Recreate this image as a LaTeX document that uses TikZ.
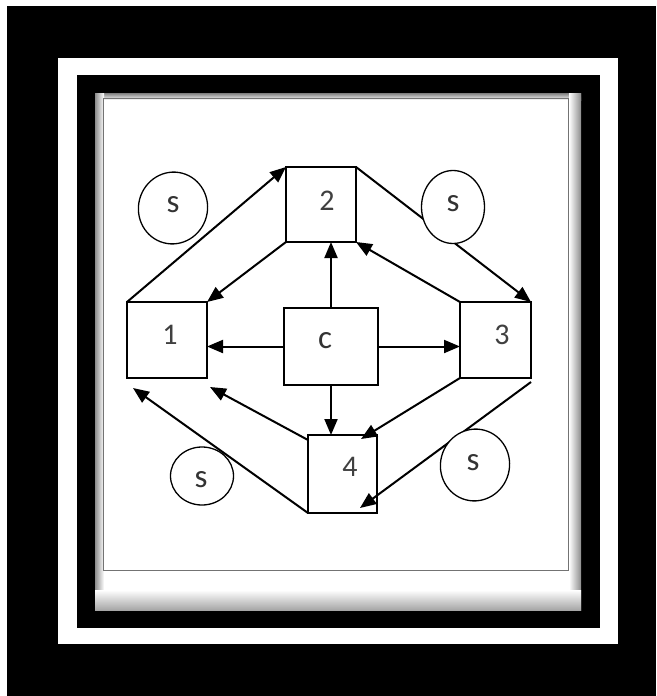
\documentclass[tikz,border=0pt]{standalone}
\usepackage{fontspec}
\setmainfont{Carlito}
\usetikzlibrary{arrows.meta,shapes.geometric,calc}
\begin{document}
\begin{tikzpicture}[x=1pt,y=1pt,
  box/.style={draw,line width=1.9pt,minimum width=#1,outer sep=0pt,inner sep=0pt},
  lbl/.style={text=black!75,font=\fontsize{30}{30}\selectfont},
  slbl/.style={text=black!80,font=\fontsize{33}{33}\selectfont},
  sell/.style={draw,ellipse,fill=white,line width=1.3pt,inner sep=0pt,outer sep=0pt},
  conn/.style={line width=2pt,-{Triangle[length=16pt,width=13pt]}}
]
\useasboundingbox (0,0) rectangle (656,-696);
\fill[white] (0,0) rectangle (656,-696);
\fill[black] (7,-6) rectangle (656,-696);
\fill[white] (58,-58) rectangle (618,-644);
\fill[black] (77,-75) rectangle (600,-628);
% panel with soft inner shadow
\fill[white] (95,-93) rectangle (581,-610);
\shade[top color=black!50,bottom color=white] (95,-93) rectangle (581,-100);
\shade[left color=black!45,right color=white] (95,-93) rectangle (104,-610);
\shade[left color=white,right color=black!45] (569,-93) rectangle (581,-610);
\shade[top color=white,bottom color=black!35] (95,-590) rectangle (581,-610);
\draw[black!55,line width=1pt] (103,-98) rectangle (568,-570);

% boxes
\node[box=80pt,minimum height=76pt] (b1) at (167,-340) {};
\node[box=70pt,minimum height=75pt] (b2) at (321,-204.5) {};
\node[box=94pt,minimum height=77pt] (bc) at (331,-346.5) {};
\node[box=71pt,minimum height=76pt] (b3) at (495.5,-340) {};
\node[box=69pt,minimum height=78pt] (b4) at (342.5,-474) {};
\node[lbl] (t1) at (170,-335) {1};
\node[lbl] (t2) at (327,-201) {2};
\node[slbl] (tc) at (325,-341) {c};
\node[lbl] (t3) at (502,-335) {3};
\node[lbl] (t4) at (350,-467) {4};

% connectors
\draw[conn] (b1.north west) -- (b2.north west);
\draw[conn] (b2.south west) -- (b1.north east);
\draw[conn] (bc.north) -- (bc.north |- b2.south);
\draw[conn] (b3.north west) -- (b2.south east);
\draw[conn] (b2.north east) -- (b3.north east);
\draw[conn] (bc.west) -- (bc.west -| b1.east);
\draw[conn] (bc.east) -- (bc.east -| b3.west);
\draw[conn] (bc.south) -- (bc.south |- b4.north);
\coordinate (a9) at ($(b1.south east)+(3,-9)$);
\coordinate (a10) at ($(b1.south west)+(6,-10)$);
\coordinate (a11) at ($(b4.north east)+(-16,-4)$);
\coordinate (a12) at ($(b4.south east)+(-17,5)$);
\draw[conn] ($(b4.north west)+(0,-5)$) -- (a9);
\draw[conn] (b4.south west) -- (a10);
\draw[conn] (b3.south west) -- (a11);
\draw[conn] ($(b3.south east)+(0,-4)$) -- (a12);

% s ellipses
\node[sell,minimum width=69pt,minimum height=72pt,rotate=-15] (s1) at (173,-208) {};
\node[sell,minimum width=63pt,minimum height=73pt] (s2) at (453,-207) {};
\node[sell,minimum width=63pt,minimum height=58pt] (s3) at (202,-476) {};
\node[sell,minimum width=69pt,minimum height=72pt,rotate=-15] (s4) at (475,-465) {};
\node[slbl] (ts1) at (173,-205) {s};
\node[slbl] (ts2) at (453,-204) {s};
\node[slbl] (ts3) at (201,-480) {s};
\node[slbl] (ts4) at (473,-463) {s};
\end{tikzpicture}
\end{document}
